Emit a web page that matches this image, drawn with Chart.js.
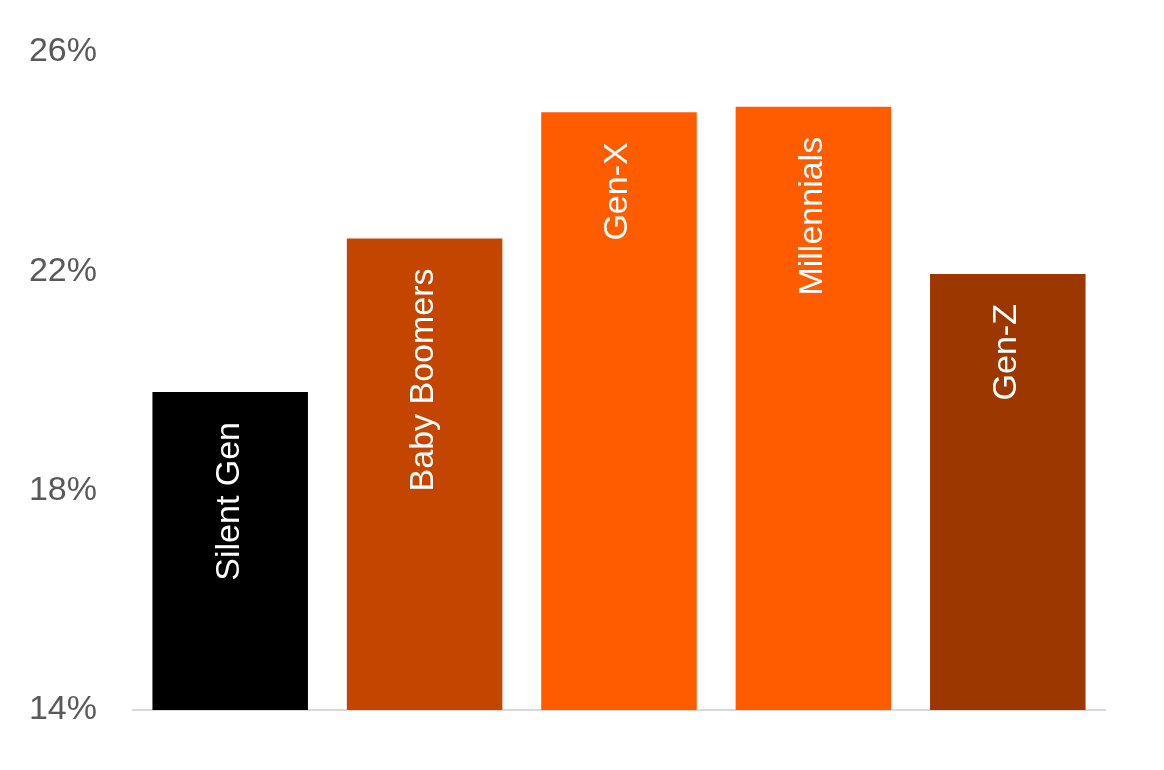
<!DOCTYPE html>
<html>
<head>
<meta charset="utf-8">
<script src="https://cdn.jsdelivr.net/npm/chart.js@4/dist/chart.umd.min.js"></script>
<style>
    html, body { margin: 0; padding: 0; background: #ffffff; }
    #wrap { width: 1164px; height: 770px; }
</style>
</head>
<body>
<div id="wrap"><canvas id="genChart"></canvas></div>
<script>
// Chart data
const generations = ['Silent Gen', 'Baby Boomers', 'Gen-X', 'Millennials', 'Gen-Z'];
const shares = [19.8, 22.6, 24.9, 25.0, 21.95];
const barColors = ['#000000', '#c44500', '#ff5c00', '#ff5c00', '#9c3700'];
const tickValues = [14, 18, 22, 26];

const FONT = '"Liberation Sans", Arial, Helvetica, sans-serif';

// Draw the generation name rotated inside each bar, near the top
const barLabels = {
    id: 'barLabels',
    afterDatasetsDraw(chart) {
        const ctx = chart.ctx;
        const meta = chart.getDatasetMeta(0);
        ctx.save();
        ctx.fillStyle = '#ffffff';
        ctx.font = '34px ' + FONT;
        ctx.textAlign = 'right';
        ctx.textBaseline = 'middle';
        meta.data.forEach((bar, i) => {
            ctx.save();
            ctx.translate(bar.x - 1, bar.y + 30);
            ctx.rotate(-Math.PI / 2);
            ctx.fillText(generations[i], 0, 0);
            ctx.restore();
        });
        ctx.restore();
    }
};

new Chart(document.getElementById('genChart'), {
    type: 'bar',
    data: {
        labels: generations,
        datasets: [{
            data: shares,
            backgroundColor: barColors,
            borderWidth: 0,
            categoryPercentage: 1,
            barPercentage: 0.8
        }]
    },
    options: {
        responsive: true,
        maintainAspectRatio: false,
        animation: false,
        layout: {
            padding: { top: 52, bottom: 60, left: 0, right: 59 }
        },
        plugins: {
            legend: { display: false },
            tooltip: { enabled: false }
        },
        scales: {
            x: {
                grid: { display: false, drawTicks: false },
                ticks: { display: false },
                border: { display: true, color: '#d9d9d9', width: 2 }
            },
            y: {
                min: 14,
                max: 26,
                afterBuildTicks: scale => {
                    scale.ticks = tickValues.map(v => ({ value: v }));
                },
                afterFit: scale => {
                    scale.width = 133;
                    // keep the plot top/bottom set by layout padding only
                    scale.paddingTop = 0;
                    scale.paddingBottom = 0;
                },
                grid: { display: false, drawTicks: false },
                border: { display: false },
                ticks: {
                    padding: 36,
                    color: '#595959',
                    font: { family: FONT, size: 34 },
                    callback: v => v + '%'
                }
            }
        }
    },
    plugins: [barLabels]
});
</script>
</body>
</html>
